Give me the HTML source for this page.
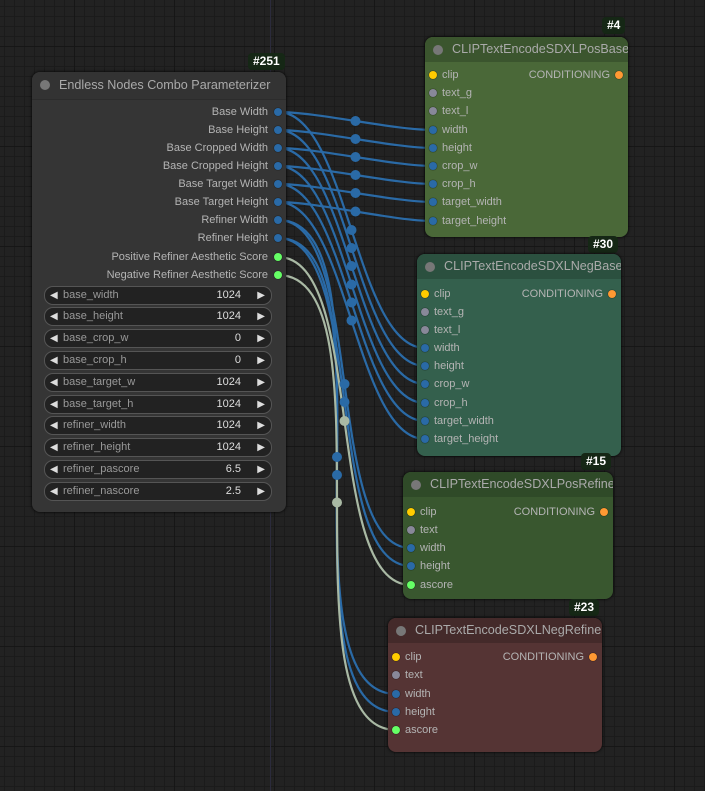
<!DOCTYPE html>
<html><head><meta charset="utf-8"><style>
body{margin:0;width:705px;height:791px;overflow:hidden;background:#222;font-family:"Liberation Sans",sans-serif;position:relative}
#bg{position:absolute;left:0;top:0;width:705px;height:791px;
background-image:linear-gradient(#1b1b1b 1px,transparent 1px),linear-gradient(90deg,#1b1b1b 1px,transparent 1px);background-size:10px 10px,10px 10px;background-position:0 6px,4px 0}
#bg:after{content:"";position:absolute;left:0;top:0;right:0;bottom:0;background-image:linear-gradient(#161616 1px,transparent 1px),linear-gradient(90deg,#161616 1px,transparent 1px);background-size:100px 100px;background-position:0 46px,74px 0}
.vl{position:absolute;left:270px;top:0;width:1px;height:791px;background:#2b2b3c}
svg{position:absolute;left:0;top:0}
.node{position:absolute;border-radius:8px;box-shadow:0 0 3px #000}
.title{position:absolute;left:0;right:0;top:0;height:25px;border-radius:8px 8px 0 0;color:#aaa;font-size:12.6px;line-height:25px;padding-left:27px;white-space:nowrap;overflow:hidden}
.title:before{content:"";position:absolute;left:8px;top:8px;width:10px;height:10px;border-radius:50%;background:#777}
.badge{position:absolute;height:17px;line-height:17px;background:#152715;color:#fff;font-weight:bold;font-size:12px;padding:0 5px;border-radius:4px}
.in,.out{position:absolute;font-size:11px;color:#b4b4b4;white-space:nowrap;line-height:14px}
.dot{position:absolute;width:8px;height:8px;border-radius:50%;box-shadow:0 0 1px #000}
.w{position:absolute;left:12px;width:226px;height:17px;border:1px solid #555;border-radius:9px;background:#222;font-size:11px;color:#999;line-height:17px}
.w .l{position:absolute;left:5px;color:#ddd;font-size:10px}
.w .n{position:absolute;left:18px}
.w .v{position:absolute;right:30px;color:#ddd}
.w .r{position:absolute;right:6px;color:#ddd;font-size:10px}
</style></head><body>
<div id="bg"></div><div class="vl"></div>
<svg id="s" width="705" height="791"></svg>

<div class="badge" style="left:248px;top:53px">#251</div>
<div class="node" style="left:32px;top:72px;width:254px;height:440px;background:#353535">
<div class="title" style="background:#333;height:27px;line-height:27px;border-bottom:1px solid #2c2c2c">Endless Nodes Combo Parameterizer</div>
<div id="o251"></div>
<div id="w251"></div>
</div>

<div class="badge" style="left:602px;top:17px">#4</div>
<div class="node" style="left:425px;top:37px;width:203px;height:200px;background:#4a6838" id="n4"><div class="title" style="background:#3b552e">CLIPTextEncodeSDXLPosBase</div></div>
<div class="badge" style="left:588px;top:236px">#30</div>
<div class="node" style="left:417px;top:254px;width:204px;height:202px;background:#34604d" id="n30"><div class="title" style="background:#2b503f">CLIPTextEncodeSDXLNegBase</div></div>
<div class="badge" style="left:581px;top:453px">#15</div>
<div class="node" style="left:403px;top:472px;width:210px;height:127px;background:#39572f" id="n15"><div class="title" style="background:#2f4a28">CLIPTextEncodeSDXLPosRefiner</div></div>
<div class="badge" style="left:569px;top:599px">#23</div>
<div class="node" style="left:388px;top:618px;width:214px;height:134px;background:#553434" id="n23"><div class="title" style="background:#442a2a">CLIPTextEncodeSDXLNegRefiner</div></div>

<script>
var B='#2a6aa6',Y='#fc0',G='#888899',L='#6f6',O='#f93';
var outs=["Base Width","Base Height","Base Cropped Width","Base Cropped Height","Base Target Width","Base Target Height","Refiner Width","Refiner Height","Positive Refiner Aesthetic Score","Negative Refiner Aesthetic Score"];
var oy=[112,130,148,166,184,202,220,238,257,275];
var h='';
outs.forEach(function(t,i){var c=i<8?B:L;var y=oy[i]-72;
h+='<div class="out" style="right:18px;top:'+(y-7)+'px">'+t+'</div><div class="dot" style="left:242px;top:'+(y-4)+'px;background:'+c+'"></div>';});
document.getElementById('o251').innerHTML=h;
var ws=[["base_width","1024"],["base_height","1024"],["base_crop_w","0"],["base_crop_h","0"],["base_target_w","1024"],["base_target_h","1024"],["refiner_width","1024"],["refiner_height","1024"],["refiner_pascore","6.5"],["refiner_nascore","2.5"]];
h='';ws.forEach(function(w,i){var cy=295+i*21.8-72;
h+='<div class="w" style="top:'+(cy-9.5)+'px"><span class="l">◀</span><span class="n">'+w[0]+'</span><span class="v">'+w[1]+'</span><span class="r">▶</span></div>';});
document.getElementById('w251').innerHTML=h;
function node(id,top,rows,ys){var e=document.getElementById(id),s='';
rows.forEach(function(r,i){var y=ys[i]-top;
s+='<div class="dot" style="left:4px;top:'+(y-4)+'px;background:'+r[1]+'"></div><div class="in" style="left:17px;top:'+(y-7)+'px">'+r[0]+'</div>';});
s+='<div class="out" style="right:18px;top:'+(ys[0]-top-7)+'px">CONDITIONING</div><div class="dot" style="right:5px;top:'+(ys[0]-top-4)+'px;background:'+O+'"></div>';
e.innerHTML+=s;}
var big=[["clip",Y],["text_g",G],["text_l",G],["width",B],["height",B],["crop_w",B],["crop_h",B],["target_width",B],["target_height",B]];
var sm=[["clip",Y],["text",G],["width",B],["height",B],["ascore",L]];
var y4=[75,93,111,130,148,166,184,202,221],y30=[294,312,330,348,366,384,403,421,439],y15=[512,530,548,566,585],y23=[657,675,694,712,730];
node('n4',37,big,y4);node('n30',254,big,y30);node('n15',472,sm,y15);node('n23',618,sm,y23);
var links=[];
for(var i=0;i<6;i++){links.push([oy[i],433,y4[3+i],B]);links.push([oy[i],425,y30[3+i],B]);}
links.push([oy[6],411,y15[2],B]);links.push([oy[6],396,y23[2],B]);
links.push([oy[7],411,y15[3],B]);links.push([oy[7],396,y23[3],B]);
links.push([oy[8],411,y15[4],'#a9b9a4']);links.push([oy[9],396,y23[4],'#a9b9a4']);
var p='',d2='';
links.forEach(function(l){var x1=278,y1=l[0],x2=l[1],y2=l[2];var d=Math.hypot(x2-x1,y2-y1)*0.25;
p+='<path d="M'+x1+' '+y1+'C'+(x1+d)+' '+y1+' '+(x2-d)+' '+y2+' '+x2+' '+y2+'" stroke="'+l[3]+'" stroke-width="2.2" fill="none"/>';
d2+='<circle cx="'+(x1+x2)/2+'" cy="'+(y1+y2)/2+'" r="5" fill="'+l[3]+'"/>';});
document.getElementById('s').innerHTML=p+d2;
</script>
</body></html>
